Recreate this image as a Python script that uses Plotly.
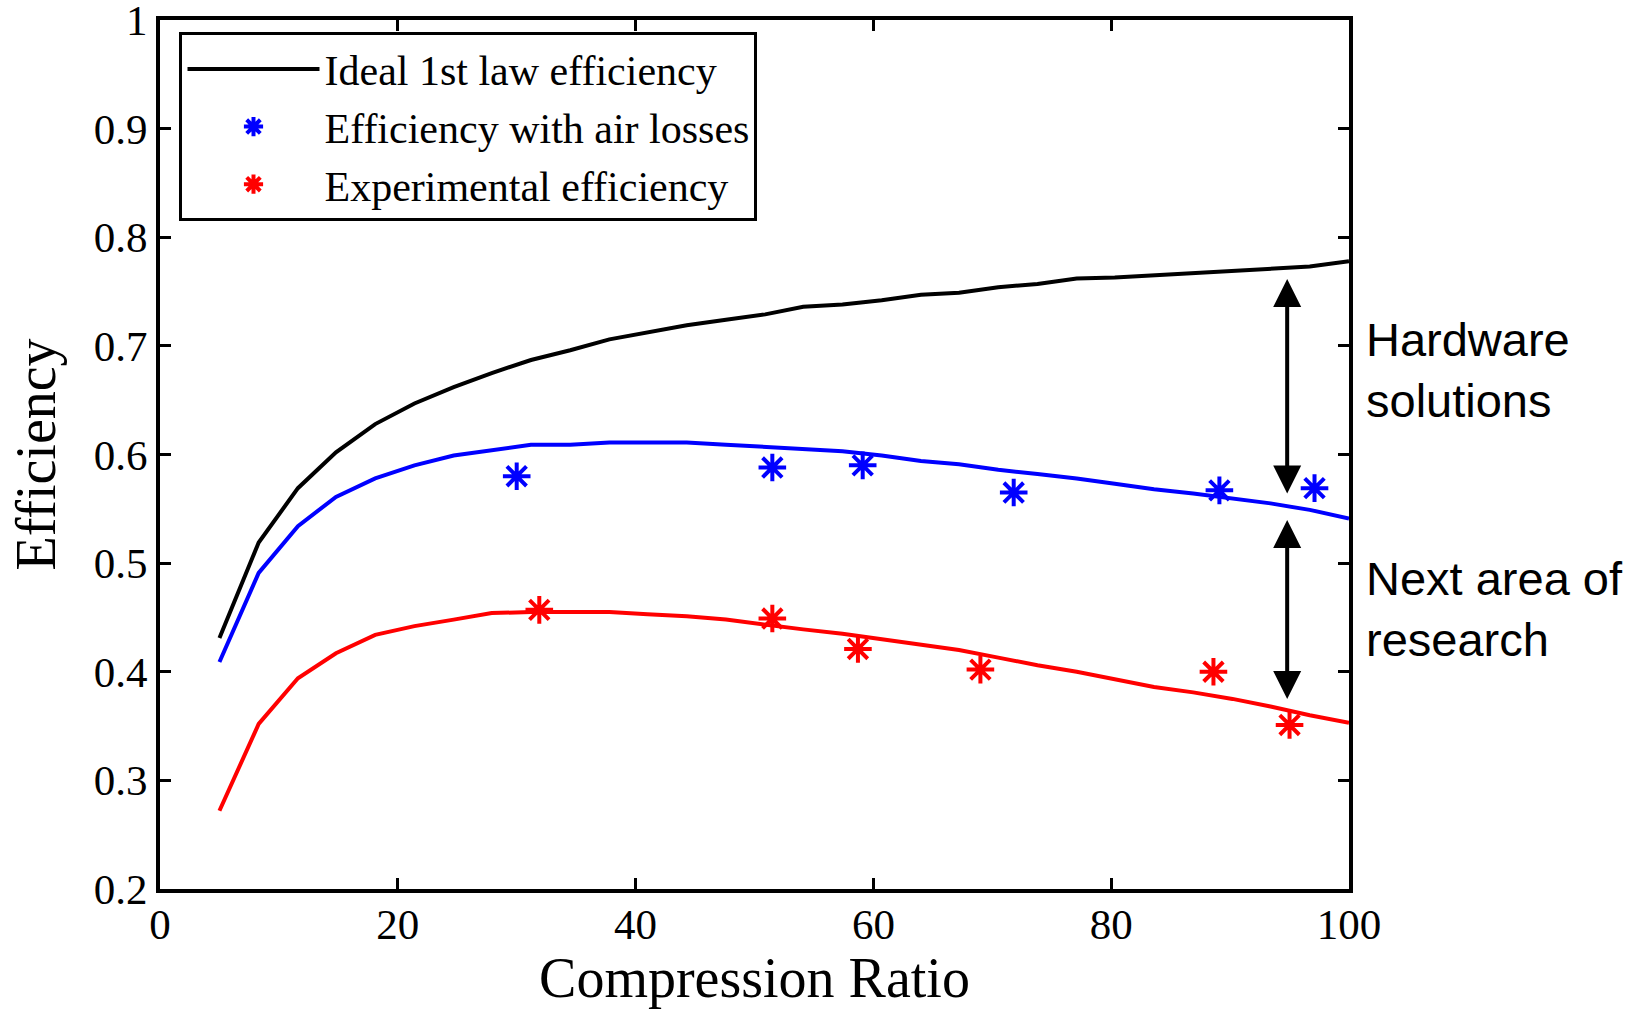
import plotly.graph_objects as go

# ---- data ----
compression_ratio = [5.0, 8.3, 11.6, 14.8, 18.1, 21.4, 24.7, 27.9, 31.2, 34.5,
                     37.8, 41.0, 44.3, 47.6, 50.9, 54.1, 57.4, 60.7, 64.0, 67.2,
                     70.5, 73.8, 77.1, 80.3, 83.6, 86.9, 90.2, 93.4, 96.7, 100.0]

ideal_eff = [0.431, 0.519, 0.569, 0.602, 0.628, 0.647, 0.662, 0.675, 0.687, 0.696,
             0.706, 0.712, 0.719, 0.724, 0.729, 0.736, 0.738, 0.742, 0.747, 0.749,
             0.754, 0.757, 0.762, 0.763, 0.765, 0.767, 0.769, 0.771, 0.773, 0.778]

air_loss_eff = [0.409, 0.491, 0.534, 0.561, 0.578, 0.590, 0.599, 0.604, 0.609, 0.609,
                0.611, 0.611, 0.611, 0.609, 0.607, 0.605, 0.603, 0.599, 0.594, 0.591,
                0.586, 0.582, 0.578, 0.573, 0.568, 0.564, 0.559, 0.555, 0.549, 0.541]

exp_model_eff = [0.272, 0.352, 0.394, 0.417, 0.434, 0.442, 0.448, 0.454, 0.455, 0.455,
                 0.455, 0.453, 0.451, 0.448, 0.443, 0.439, 0.435, 0.430, 0.425, 0.420,
                 0.413, 0.406, 0.400, 0.393, 0.386, 0.381, 0.375, 0.368, 0.360, 0.353]

air_pts_x = [30.0, 51.5, 59.1, 71.8, 89.1, 97.1]
air_pts_y = [0.580, 0.588, 0.590, 0.565, 0.567, 0.569]

exp_pts_x = [31.9, 51.5, 58.7, 69.0, 88.6, 95.0]
exp_pts_y = [0.457, 0.449, 0.421, 0.402, 0.400, 0.351]

x_ticks = [0, 20, 40, 60, 80, 100]
y_ticks = [0.2, 0.3, 0.4, 0.5, 0.6, 0.7, 0.8, 0.9, 1.0]
y_tick_labels = ["0.2", "0.3", "0.4", "0.5", "0.6", "0.7", "0.8", "0.9", "1"]

arrow_x = 94.8
upper_arrow = (0.763, 0.564)
lower_arrow = (0.541, 0.375)

SERIF = "Liberation Serif"
SANS = "Liberation Sans"

fig = go.Figure()

fig.add_trace(go.Scatter(
    x=compression_ratio, y=ideal_eff, mode="lines",
    line=dict(color="black", width=4),
    name="Ideal 1st law efficiency"))

fig.add_trace(go.Scatter(
    x=air_pts_x, y=air_pts_y, mode="markers",
    marker=dict(symbol="asterisk-open", size=23, color="#0000ff",
                line=dict(color="#0000ff", width=4)),
    name="Efficiency with air losses"))

fig.add_trace(go.Scatter(
    x=exp_pts_x, y=exp_pts_y, mode="markers",
    marker=dict(symbol="asterisk-open", size=23, color="#ff0000",
                line=dict(color="#ff0000", width=4)),
    name="Experimental efficiency"))

fig.add_trace(go.Scatter(
    x=compression_ratio, y=air_loss_eff, mode="lines",
    line=dict(color="#0000ff", width=4), showlegend=False))

fig.add_trace(go.Scatter(
    x=compression_ratio, y=exp_model_eff, mode="lines",
    line=dict(color="#ff0000", width=4), showlegend=False))

for top, bottom in (upper_arrow, lower_arrow):
    fig.add_annotation(
        x=arrow_x, y=bottom, ax=arrow_x, ay=top,
        xref="x", yref="y", axref="x", ayref="y",
        text="", showarrow=True,
        arrowhead=2, startarrowhead=2, arrowside="end+start",
        arrowsize=1.4, startarrowsize=1.4, arrowwidth=4, arrowcolor="black",
        standoff=0, startstandoff=0)

fig.add_annotation(x=1.013, y=0.597, xref="paper", yref="paper",
                   text="Hardware<br>solutions", showarrow=False,
                   xanchor="left", yanchor="middle", align="left",
                   font=dict(family=SANS, size=47, color="black"))
fig.add_annotation(x=1.013, y=0.322, xref="paper", yref="paper",
                   text="Next area of<br>research", showarrow=False,
                   xanchor="left", yanchor="middle", align="left",
                   font=dict(family=SANS, size=47, color="black"))

axis_common = dict(showline=True, linewidth=4, linecolor="black", mirror="allticks",
                   ticks="inside", ticklen=11, tickwidth=3, tickcolor="black",
                   showgrid=False, zeroline=False, ticklabeloverflow="allow",
                   tickfont=dict(family=SERIF, size=43, color="black"))

fig.update_xaxes(range=[0, 100], tickvals=x_ticks, ticklabelstandoff=-6,
                 title=dict(text="Compression Ratio",
                            font=dict(family=SERIF, size=56, color="black"),
                            standoff=18),
                 **axis_common)
fig.update_yaxes(range=[0.2, 1.0], tickvals=y_ticks, ticktext=y_tick_labels,
                 title=dict(text="Efficiency",
                            font=dict(family=SERIF, size=56, color="black"),
                            standoff=21),
                 **axis_common)

fig.update_layout(
    width=1645, height=1009,
    margin=dict(l=160, r=296, t=20, b=120, autoexpand=False),
    paper_bgcolor="white", plot_bgcolor="white",
    showlegend=True,
    legend=dict(x=0.0164, y=0.986, xanchor="left", yanchor="top",
                bgcolor="white", bordercolor="black", borderwidth=3,
                font=dict(family=SERIF, size=42, color="black"),
                itemwidth=132, tracegroupgap=0),
)

fig.write_html("out.html")
